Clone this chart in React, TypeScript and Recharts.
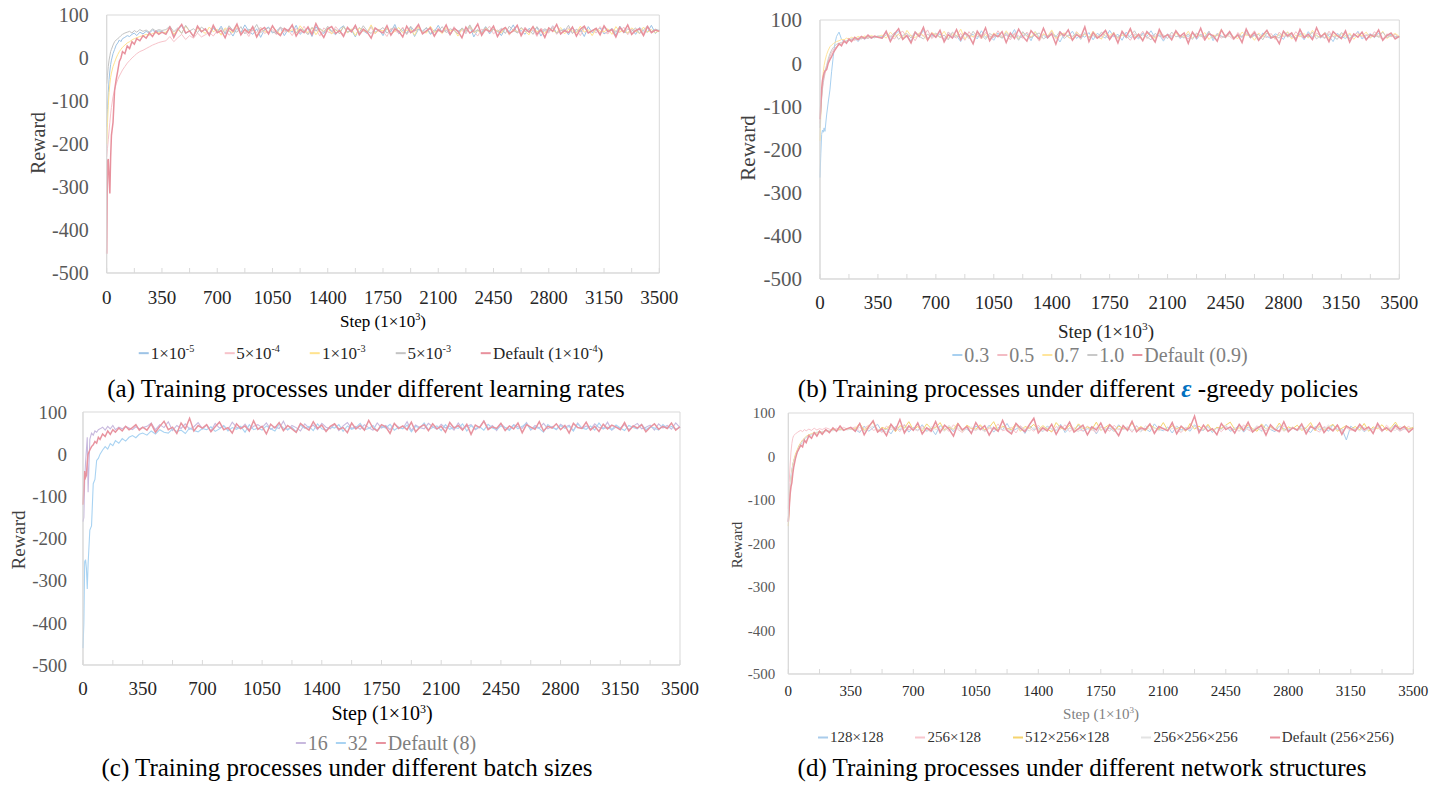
import React from 'react';
import { LineChart, Line, XAxis, YAxis, ReferenceArea } from 'recharts';

const SERIF = '"Liberation Serif", "Times New Roman", serif';
const AXIS = '#D9D9D9';

// step axis (×10^3): dense at the start where the curves climb, then every 25
const EARLY_STEPS = [0, 5, 10, 15, 20, 25, 30, 40, 50, 60, 70, 80, 90, 100, 115, 130, 145, 160, 175, 190, 210, 230, 250, 270, 290, 310, 330, 350];
const LATE_STEPS = [
  375, 400, 425, 450, 475, 500, 525, 550, 575, 600, 625, 650, 675, 700,
  725, 750, 775, 800, 825, 850, 875, 900, 925, 950, 975, 1000, 1025, 1050,
  1075, 1100, 1125, 1150, 1175, 1200, 1225, 1250, 1275, 1300, 1325, 1350, 1375, 1400,
  1425, 1450, 1475, 1500, 1525, 1550, 1575, 1600, 1625, 1650, 1675, 1700, 1725, 1750,
  1775, 1800, 1825, 1850, 1875, 1900, 1925, 1950, 1975, 2000, 2025, 2050, 2075, 2100,
  2125, 2150, 2175, 2200, 2225, 2250, 2275, 2300, 2325, 2350, 2375, 2400, 2425, 2450,
  2475, 2500, 2525, 2550, 2575, 2600, 2625, 2650, 2675, 2700, 2725, 2750, 2775, 2800,
  2825, 2850, 2875, 2900, 2925, 2950, 2975, 3000, 3025, 3050, 3075, 3100, 3125, 3150,
  3175, 3200, 3225, 3250, 3275, 3300, 3325, 3350, 3375, 3400, 3425, 3450, 3475, 3500,
];
const STEPS = [...EARLY_STEPS, ...LATE_STEPS];
const X_TICKS = [0, 175, 350, 525, 700, 875, 1050, 1225, 1400, 1575, 1750, 1925, 2100, 2275, 2450, 2625, 2800, 2975, 3150, 3325, 3500];
const Y_TICKS = [-500, -400, -300, -200, -100, 0, 100];

// (a) learning rates
const LR_1E5 = [
  -160, -120, -80, -50, -30, -15, -5, 10, 20, 30, 35, 42, 38, 45, 48, 52, 50, 55, 58, 52, 60, 56, 62, 58, 65, 60, 63, 61,
  58, 70, 54, 66, 75, 57, 63, 49, 72, 60, 67, 53, 69, 61,
  74, 56, 64, 51, 70, 59, 77, 62, 55, 68, 48, 66, 72, 58,
  63, 71, 52, 67, 60, 76, 55, 64, 69, 50, 73, 61, 57, 70,
  62, 54, 68, 75, 59, 65, 49, 71, 63, 57, 74, 60, 66, 52,
  69, 61, 78, 56, 64, 58, 72, 50, 67, 63, 70, 55, 61, 76,
  59, 66, 53, 71, 62, 68, 57, 74, 49, 65, 60, 73, 56, 67,
  63, 52, 70, 61, 77, 58, 64, 55, 69, 62, 72, 51, 66, 60,
  75, 57, 63, 68, 54, 71, 60, 66, 50, 73, 59, 64, 70, 56,
  62, 69, 53, 74, 61, 58, 67, 55, 71, 63, 60, 76, 57, 65,
];
const LR_5E4 = [
  -230, -210, -190, -170, -150, -130, -115, -90, -75, -60, -50, -42, -35, -28, -20, -12, -6, 0, 5, 10, 15, 18, 22, 26, 30, 33, 36, 38,
  40, 50, 38, 47, 55, 43, 52, 46, 58, 49, 54, 60, 51, 63,
  56, 67, 53, 61, 70, 55, 64, 50, 68, 59, 72, 57, 62, 66,
  54, 71, 60, 65, 52, 69, 58, 74, 56, 63, 67, 51, 70, 61,
  57, 73, 62, 55, 68, 60, 76, 53, 64, 59, 71, 56, 66, 62,
  50, 69, 63, 58, 72, 55, 65, 61, 75, 57, 62, 68, 52, 70,
  60, 66, 54, 73, 59, 64, 57, 70, 62, 51, 67, 63, 74, 56,
  65, 59, 71, 53, 68, 61, 56, 72, 60, 66, 50, 69, 63, 58,
  74, 55, 64, 62, 70, 57, 67, 52, 71, 60, 65, 58, 73, 61,
  56, 68, 63, 59, 72, 54, 66, 61, 69, 57, 75, 60, 64, 62,
];
const LR_1E3 = [
  -200, -150, -110, -80, -60, -45, -35, -20, -10, 0, 8, 15, 20, 25, 30, 35, 38, 42, 45, 47, 50, 52, 55, 53, 57, 58, 60, 59,
  60, 71, 55, 66, 58, 74, 62, 52, 69, 64, 57, 72, 61, 67,
  53, 70, 63, 59, 76, 56, 65, 61, 72, 50, 68, 62, 58, 73,
  64, 55, 69, 60, 66, 57, 75, 63, 59, 71, 54, 67, 62, 70,
  56, 65, 61, 73, 58, 68, 52, 70, 64, 60, 77, 57, 66, 63,
  69, 55, 62, 71, 59, 64, 67, 53, 72, 61, 58, 74, 60, 65,
  57, 70, 63, 66, 51, 68, 62, 75, 59, 64, 56, 71, 61, 67,
  63, 58, 72, 55, 66, 60, 69, 62, 54, 73, 61, 65, 57, 70,
  64, 59, 71, 56, 67, 63, 58, 74, 60, 66, 52, 69, 62, 61,
  68, 55, 73, 61, 64, 58, 70, 63, 57, 72, 60, 66, 59, 64,
];
const LR_5E3 = [
  -60, -40, -20, -5, 5, 15, 20, 30, 38, 42, 45, 48, 52, 55, 58, 60, 62, 58, 64, 60, 66, 62, 65, 60, 68, 63, 66, 64,
  66, 74, 61, 70, 57, 76, 63, 68, 59, 72, 65, 55, 71, 62,
  69, 58, 75, 64, 60, 73, 56, 67, 63, 78, 59, 66, 70, 61,
  57, 72, 65, 62, 76, 58, 68, 64, 54, 71, 63, 69, 60, 74,
  62, 67, 56, 73, 61, 65, 70, 59, 75, 63, 57, 68, 64, 71,
  58, 66, 72, 61, 69, 55, 74, 63, 67, 60, 71, 57, 65, 62,
  73, 59, 68, 64, 56, 70, 62, 77, 60, 66, 58, 72, 63, 67,
  61, 69, 57, 74, 64, 59, 71, 62, 66, 55, 73, 60, 68, 63,
  70, 58, 65, 62, 76, 57, 67, 61, 72, 59, 64, 69, 56, 71,
  63, 66, 60, 73, 58, 68, 62, 70, 57, 65, 74, 61, 67, 64,
];
const LR_DEFAULT = [
  -455, -240, -235, -280, -315, -230, -180, -150, -75, -50, -30, -8, 0, 15, 10, 28, 22, 38, 32, 45, 40, 52, 46, 58, 50, 62, 55, 60,
  55, 72, 48, 66, 78, 58, 63, 50, 74, 61, 68, 53, 76, 59,
  64, 47, 70, 62, 79, 54, 67, 58, 73, 49, 65, 71, 56, 75,
  60, 52, 69, 63, 77, 51, 66, 59, 72, 55, 80, 62, 48, 68,
  73, 57, 64, 50, 71, 61, 76, 54, 67, 60, 46, 70, 63, 58,
  75, 53, 68, 62, 49, 74, 59, 65, 78, 56, 63, 70, 51, 66,
  60, 77, 55, 69, 62, 47, 72, 58, 64, 79, 53, 67, 61, 74,
  50, 65, 71, 57, 63, 76, 52, 68, 60, 73, 55, 66, 48, 70,
  62, 78, 56, 64, 59, 72, 51, 67, 74, 58, 63, 69, 54, 75,
  61, 66, 49, 71, 60, 77, 55, 64, 68, 52, 73, 59, 65, 62,
];

// (b) epsilon-greedy
const EPS_03 = [
  -265, -210, -165, -155, -160, -150, -158, -120, -90, -62, -20, 15, 45, 62, 72, 55, 50, 48, 52, 55, 58, 50, 60, 55, 62, 58, 60, 63,
  62, 70, 55, 66, 74, 58, 63, 51, 69, 61, 76, 57, 65, 60,
  68, 54, 72, 59, 64, 50, 71, 62, 67, 56, 75, 60, 63, 53,
  70, 58, 66, 61, 78, 55, 64, 69, 52, 73, 60, 65, 57, 71,
  63, 49, 68, 62, 74, 57, 66, 60, 71, 54, 69, 63, 58, 76,
  61, 67, 53, 72, 59, 64, 56, 70, 62, 75, 58, 66, 51, 68,
  60, 73, 57, 65, 62, 70, 55, 67, 61, 74, 52, 69, 63, 59,
  71, 56, 64, 60, 77, 58, 66, 53, 70, 62, 57, 68, 64, 55,
  72, 61, 59, 67, 54, 73, 60, 65, 58, 71, 63, 50, 69, 62,
  57, 66, 61, 74, 56, 64, 68, 59, 70, 55, 63, 67, 58, 62,
];
const EPS_05 = [
  -140, -110, -80, -60, -45, -35, -25, -10, 5, 15, 25, 30, 35, 38, 42, 45, 48, 50, 52, 55, 53, 58, 56, 60, 57, 62, 59, 61,
  59, 71, 63, 56, 68, 74, 60, 65, 52, 70, 62, 77, 57, 66,
  61, 55, 72, 64, 58, 69, 53, 73, 60, 67, 56, 71, 63, 59,
  75, 61, 66, 54, 70, 63, 58, 72, 60, 65, 51, 68, 62, 74,
  57, 64, 69, 60, 55, 73, 62, 67, 59, 71, 64, 56, 76, 61,
  66, 58, 70, 63, 53, 68, 60, 74, 57, 65, 62, 71, 55, 67,
  63, 72, 59, 64, 56, 70, 61, 66, 52, 73, 60, 68, 58, 65,
  62, 54, 71, 60, 67, 63, 75, 57, 64, 59, 69, 55, 72, 61,
  66, 58, 73, 62, 60, 68, 54, 70, 63, 57, 74, 61, 65, 59,
  69, 56, 64, 71, 60, 66, 58, 73, 62, 55, 68, 61, 67, 60,
];
const EPS_07 = [
  -180, -120, -70, -40, -20, -5, 5, 20, 30, 38, 42, 45, 48, 50, 52, 55, 54, 58, 56, 60, 57, 62, 59, 63, 60, 64, 61, 62,
  65, 58, 72, 61, 67, 55, 76, 63, 59, 70, 64, 53, 71, 66,
  60, 74, 57, 68, 62, 79, 56, 65, 61, 72, 58, 67, 54, 70,
  63, 59, 75, 61, 66, 57, 71, 64, 60, 73, 55, 68, 62, 77,
  58, 66, 70, 61, 55, 72, 63, 67, 59, 74, 61, 56, 69, 64,
  71, 57, 65, 62, 76, 60, 68, 54, 70, 63, 58, 73, 61, 66,
  56, 69, 64, 60, 74, 58, 67, 62, 71, 55, 65, 63, 78, 59,
  68, 61, 57, 72, 64, 66, 53, 70, 60, 75, 62, 58, 67, 63,
  73, 56, 65, 61, 69, 58, 76, 63, 60, 71, 57, 66, 62, 68,
  60, 70, 55, 67, 63, 72, 59, 65, 61, 74, 57, 64, 69, 62,
];
const EPS_10 = [
  -150, -110, -80, -55, -40, -28, -18, -5, 10, 22, 30, 36, 40, 44, 46, 48, 50, 52, 54, 56, 55, 58, 57, 60, 58, 61, 59, 62,
  57, 66, 60, 71, 55, 64, 69, 58, 73, 62, 56, 67, 61, 70,
  59, 65, 54, 72, 63, 60, 68, 57, 74, 61, 66, 55, 69, 62,
  64, 58, 71, 60, 67, 53, 73, 62, 59, 66, 70, 56, 63, 68,
  61, 74, 57, 65, 62, 69, 55, 71, 60, 64, 58, 72, 63, 56,
  67, 60, 70, 58, 63, 75, 59, 66, 61, 54, 69, 62, 65, 57,
  72, 61, 64, 58, 68, 55, 70, 63, 60, 73, 57, 66, 62, 59,
  69, 56, 65, 62, 71, 59, 64, 67, 54, 70, 61, 63, 58, 73,
  60, 66, 57, 69, 63, 61, 72, 56, 65, 59, 68, 62, 55, 71,
  64, 58, 67, 61, 70, 57, 63, 66, 60, 72, 59, 65, 62, 61,
];
const EPS_DEFAULT = [
  -130, -95, -60, -40, -30, -22, -18, -15, 0, 8, 15, 24, 30, 36, 45, 40, 52, 46, 56, 50, 60, 54, 62, 57, 65, 58, 63, 60,
  58, 74, 50, 68, 80, 55, 64, 47, 72, 62, 83, 53, 69, 60,
  76, 49, 66, 58, 78, 54, 71, 63, 45, 74, 60, 82, 52, 67,
  61, 73, 48, 70, 57, 79, 62, 51, 75, 64, 56, 81, 59, 68,
  44, 72, 63, 77, 53, 66, 60, 84, 50, 71, 58, 65, 76, 55,
  69, 47, 74, 61, 80, 56, 67, 52, 73, 63, 49, 78, 60, 66,
  54, 75, 62, 70, 46, 72, 59, 81, 55, 68, 64, 51, 77, 61,
  73, 57, 66, 48, 79, 60, 71, 53, 65, 76, 58, 62, 45, 74,
  63, 70, 52, 78, 59, 67, 55, 82, 61, 69, 50, 73, 64, 57,
  75, 49, 68, 60, 72, 54, 66, 61, 77, 53, 64, 70, 56, 62,
];

// (c) batch sizes
const BS_16 = [
  -160, -150, -60, -20, 10, 40, -90, 35, 50, 45, 55, 52, 58, 60, 64, 57, 66, 60, 68, 58, 64, 60, 66, 62, 58, 65, 60, 63,
  66, 74, 58, 70, 63, 77, 56, 68, 61, 72, 59, 65, 75, 60,
  69, 55, 73, 62, 67, 58, 76, 64, 60, 71, 57, 66, 70, 63,
  74, 59, 65, 61, 78, 57, 68, 63, 55, 72, 62, 69, 58, 73,
  64, 60, 71, 56, 67, 75, 61, 66, 59, 70, 63, 57, 74, 62,
  68, 58, 72, 64, 61, 77, 56, 69, 63, 60, 73, 65, 59, 71,
  62, 67, 57, 74, 60, 66, 70, 58, 64, 79, 61, 68, 56, 72,
  63, 59, 70, 65, 61, 75, 57, 68, 62, 73, 60, 66, 58, 71,
  64, 69, 56, 74, 61, 67, 59, 72, 63, 60, 76, 57, 65, 62,
  70, 58, 66, 73, 60, 64, 69, 57, 72, 62, 68, 59, 74, 63,
];
const BS_32 = [
  -460, -400, -255, -250, -270, -320, -260, -180, -170, -70, -60, -15, -10, 0, 10, 18, 12, 25, 20, 32, 26, 37, 31, 40, 44, 39, 47, 50,
  45, 55, 48, 58, 52, 50, 60, 54, 57, 49, 62, 56, 53, 61,
  58, 65, 54, 60, 68, 55, 63, 59, 66, 52, 70, 58, 62, 57,
  67, 60, 55, 71, 62, 58, 64, 53, 69, 61, 66, 56, 72, 60,
  57, 65, 62, 70, 54, 67, 59, 63, 73, 58, 61, 68, 55, 66,
  62, 71, 57, 64, 60, 69, 53, 66, 62, 74, 58, 63, 67, 56,
  70, 59, 64, 61, 72, 55, 68, 60, 65, 57, 71, 62, 58, 67,
  63, 56, 69, 60, 66, 73, 58, 64, 61, 52, 70, 63, 59, 68,
  61, 66, 55, 72, 62, 59, 67, 57, 74, 60, 64, 58, 69, 62,
  56, 68, 63, 60, 71, 58, 65, 62, 57, 70, 61, 66, 59, 64,
];
const BS_DEFAULT = [
  -120, -80, -40, -55, -50, -20, 0, 10, 18, 22, 30, 26, 40, 35, 48, 42, 55, 47, 58, 52, 62, 55, 66, 58, 63, 70, 57, 64,
  57, 72, 52, 66, 78, 58, 64, 49, 74, 60, 85, 55, 68, 62,
  70, 53, 65, 76, 58, 63, 50, 72, 61, 67, 55, 79, 59, 66,
  48, 71, 62, 75, 56, 68, 60, 52, 73, 64, 57, 77, 61, 69,
  54, 66, 72, 59, 63, 51, 74, 60, 68, 57, 80, 62, 55, 70,
  65, 49, 73, 61, 67, 58, 76, 53, 64, 70, 56, 72, 60, 66,
  52, 75, 62, 68, 57, 71, 47, 69, 63, 78, 58, 65, 61, 73,
  56, 67, 60, 74, 51, 70, 64, 59, 77, 55, 66, 62, 72, 58,
  68, 50, 73, 63, 61, 76, 57, 66, 54, 71, 60, 69, 64, 58,
  75, 55, 67, 62, 70, 53, 64, 72, 59, 66, 61, 74, 57, 65,
];

// (d) network structures
const NET_128 = [
  -150, -110, -70, -45, -30, -20, -10, 0, 10, 20, 28, 35, 40, 44, 48, 50, 53, 55, 57, 56, 60, 58, 62, 59, 63, 61, 64, 62,
  62, 55, 70, 58, 66, 74, 57, 64, 52, 69, 61, 72, 56, 67,
  60, 73, 58, 65, 50, 71, 62, 68, 57, 75, 60, 63, 54, 70,
  64, 59, 72, 56, 67, 61, 76, 58, 63, 69, 53, 71, 62, 66,
  57, 70, 63, 60, 74, 55, 66, 61, 72, 58, 64, 68, 52, 69,
  61, 65, 58, 73, 62, 67, 56, 71, 60, 64, 57, 75, 63, 59,
  68, 54, 70, 61, 66, 58, 73, 62, 60, 69, 55, 67, 64, 71,
  58, 63, 72, 56, 68, 61, 65, 59, 74, 62, 57, 70, 64, 60,
  66, 59, 71, 63, 55, 69, 61, 67, 58, 73, 62, 64, 38, 70,
  60, 68, 57, 65, 63, 71, 58, 66, 61, 74, 59, 64, 62, 67,
];
const NET_256_128 = [
  -120, -60, -20, 10, 30, 42, 48, 52, 55, 58, 60, 57, 62, 59, 63, 60, 65, 61, 64, 62, 66, 63, 60, 65, 62, 67, 63, 64,
  68, 58, 65, 72, 60, 63, 55, 70, 62, 67, 57, 74, 61, 64,
  59, 69, 63, 56, 71, 60, 66, 58, 73, 62, 55, 68, 64, 60,
  70, 57, 65, 62, 75, 59, 63, 67, 54, 71, 61, 66, 58, 72,
  60, 64, 56, 69, 63, 73, 57, 66, 61, 59, 70, 62, 55, 67,
  65, 58, 72, 61, 64, 68, 56, 70, 62, 60, 74, 57, 66, 63,
  59, 71, 62, 55, 67, 64, 69, 58, 63, 72, 60, 65, 57, 68,
  62, 66, 58, 73, 61, 57, 70, 64, 59, 67, 62, 55, 71, 63,
  68, 60, 65, 58, 72, 62, 56, 69, 64, 61, 74, 57, 66, 60,
  63, 70, 59, 65, 61, 68, 56, 72, 62, 66, 58, 64, 69, 61,
];
const NET_512 = [
  -160, -120, -80, -55, -35, -20, -10, 5, 15, 25, 32, 38, 42, 46, 50, 52, 55, 54, 58, 56, 60, 58, 62, 60, 63, 61, 64, 62,
  64, 76, 60, 70, 79, 58, 67, 63, 74, 57, 71, 65, 80, 61,
  69, 59, 75, 64, 66, 78, 60, 68, 62, 77, 58, 72, 65, 63,
  73, 61, 67, 80, 59, 70, 64, 62, 76, 58, 69, 65, 74, 60,
  71, 63, 57, 78, 66, 61, 72, 59, 75, 64, 68, 62, 79, 60,
  67, 74, 58, 70, 65, 63, 77, 61, 69, 59, 73, 66, 62, 78,
  60, 71, 64, 68, 58, 76, 63, 70, 61, 74, 59, 67, 65, 72,
  79, 62, 66, 60, 73, 64, 58, 75, 63, 69, 61, 77, 59, 68,
  64, 72, 60, 66, 78, 59, 70, 62, 67, 74, 58, 65, 71, 63,
  69, 61, 76, 58, 68, 64, 73, 60, 66, 79, 62, 70, 63, 67,
];
const NET_256X3 = [
  -150, -110, -75, -50, -35, -22, -12, 0, 12, 22, 30, 36, 40, 45, 48, 51, 53, 56, 55, 58, 57, 60, 59, 62, 60, 63, 61, 63,
  61, 67, 58, 64, 70, 60, 63, 56, 68, 62, 66, 59, 71, 63,
  60, 65, 57, 69, 62, 64, 58, 72, 61, 66, 59, 63, 68, 60,
  65, 57, 70, 62, 60, 67, 63, 58, 71, 61, 64, 59, 66, 62,
  58, 68, 63, 61, 72, 59, 65, 62, 57, 69, 64, 60, 67, 61,
  63, 70, 58, 65, 62, 68, 60, 64, 56, 71, 62, 66, 59, 65,
  61, 64, 69, 57, 66, 62, 70, 59, 63, 67, 58, 65, 61, 72,
  60, 66, 59, 68, 63, 61, 71, 57, 65, 62, 64, 69, 58, 63,
  67, 60, 64, 58, 70, 62, 66, 59, 73, 61, 63, 57, 68, 62,
  65, 59, 67, 61, 64, 70, 58, 66, 62, 60, 69, 63, 61, 64,
];
const NET_DEFAULT = [
  -150, -120, -88, -70, -60, -40, -25, -5, 10, 18, 26, 22, 38, 32, 48, 42, 55, 47, 58, 51, 62, 55, 66, 58, 70, 60, 64, 67,
  58, 76, 50, 68, 82, 56, 64, 48, 74, 61, 85, 54, 70, 60,
  77, 52, 66, 59, 80, 55, 72, 63, 47, 75, 61, 69, 53, 78,
  62, 71, 49, 67, 58, 83, 60, 52, 76, 65, 57, 73, 88, 54,
  66, 59, 74, 51, 70, 62, 79, 56, 64, 72, 50, 68, 61, 77,
  55, 73, 63, 48, 71, 60, 81, 57, 66, 62, 75, 53, 69, 64,
  59, 78, 52, 70, 61, 67, 93, 55, 72, 58, 64, 50, 76, 62,
  68, 54, 74, 60, 79, 56, 65, 71, 49, 73, 62, 58, 80, 57,
  66, 61, 75, 52, 69, 63, 77, 55, 67, 59, 72, 51, 70, 64,
  58, 74, 62, 68, 53, 76, 60, 66, 57, 71, 63, 69, 56, 65,
];

type Series = { key: string; name: React.ReactNode; color: string; width: number; values: number[] };

const sci = (m: string, e: string) => (
  <>
    {m}×10<sup style={{ fontSize: '0.6em' }}>{e}</sup>
  </>
);

const SERIES_A: Series[] = [
  { key: 'lr1e5', name: sci('1', '-5'), color: '#9DC3E6', width: 1, values: LR_1E5 },
  { key: 'lr5e4', name: sci('5', '-4'), color: '#F7C3CA', width: 1, values: LR_5E4 },
  { key: 'lr1e3', name: sci('1', '-3'), color: '#FFE38F', width: 1, values: LR_1E3 },
  { key: 'lr5e3', name: sci('5', '-3'), color: '#C3C3C3', width: 1, values: LR_5E3 },
  { key: 'lrDef', name: <>Default ({sci('1', '-4')})</>, color: '#E8919D', width: 1.5, values: LR_DEFAULT },
];
const SERIES_B: Series[] = [
  { key: 'e03', name: '0.3', color: '#A8D0F0', width: 1, values: EPS_03 },
  { key: 'e05', name: '0.5', color: '#F3BCC4', width: 1, values: EPS_05 },
  { key: 'e07', name: '0.7', color: '#FFE59C', width: 1, values: EPS_07 },
  { key: 'e10', name: '1.0', color: '#C9C9C9', width: 1, values: EPS_10 },
  { key: 'eDef', name: 'Default (0.9)', color: '#E8939F', width: 1.5, values: EPS_DEFAULT },
];
const SERIES_C: Series[] = [
  { key: 'b16', name: '16', color: '#C8B9DE', width: 1.1, values: BS_16 },
  { key: 'b32', name: '32', color: '#A9D3F2', width: 1.1, values: BS_32 },
  { key: 'bDef', name: 'Default (8)', color: '#E8939F', width: 1.5, values: BS_DEFAULT },
];
const SERIES_D: Series[] = [
  { key: 'n128', name: '128×128', color: '#A9CCEB', width: 1, values: NET_128 },
  { key: 'n256', name: '256×128', color: '#F8C6CD', width: 1, values: NET_256_128 },
  { key: 'n512', name: '512×256×128', color: '#F5D46E', width: 1, values: NET_512 },
  { key: 'n3', name: '256×256×256', color: '#E3E3E3', width: 1, values: NET_256X3 },
  { key: 'nDef', name: 'Default (256×256)', color: '#E8919D', width: 1.5, values: NET_DEFAULT },
];

const rowsFor = (series: Series[]) =>
  STEPS.map((step, i) => {
    const row: Record<string, number> = { step };
    series.forEach((s) => {
      row[s.key] = s.values[i];
    });
    return row;
  });

type Cfg = {
  x0: number; y0: number; w: number; h: number;
  L: number; T: number; R: number; B: number;
  yFont: number; yGap: number; xFont: number; xGap: number;
};

function Panel({ cfg, series }: { cfg: Cfg; series: Series[] }) {
  const xTick = (props: any) => {
    const { x, y, payload } = props;
    const base = y - cfg.xGap;
    const v = payload.value;
    return (
      <g>
        <line x1={x} x2={x} y1={base} y2={base - 5} stroke={AXIS} />
        {v % 350 === 0 ? (
          <text x={x} y={y} textAnchor="middle" dominantBaseline="central" fontSize={cfg.xFont} fill="#262626" fontFamily={SERIF}>
            {v}
          </text>
        ) : null}
      </g>
    );
  };
  return (
    <div style={{ position: 'absolute', left: cfg.x0, top: cfg.y0 }}>
      <LineChart
        width={cfg.w}
        height={cfg.h}
        data={rowsFor(series)}
        margin={{ top: cfg.T - cfg.y0, right: cfg.x0 + cfg.w - cfg.R, bottom: 0, left: 0 }}
      >
        <XAxis
          dataKey="step"
          type="number"
          domain={[0, 3500]}
          ticks={X_TICKS}
          interval={0}
          height={cfg.y0 + cfg.h - cfg.B}
          tickSize={0}
          tickMargin={cfg.xGap}
          tickLine={false}
          tick={xTick}
          axisLine={{ stroke: AXIS }}
        />
        <YAxis
          type="number"
          domain={[-500, 100]}
          ticks={Y_TICKS}
          interval={0}
          width={cfg.L - cfg.x0}
          tickSize={0}
          tickMargin={cfg.yGap}
          tickLine={false}
          axisLine={{ stroke: AXIS }}
          tick={{ fontSize: cfg.yFont, fill: '#595959', fontFamily: SERIF }}
        />
        <ReferenceArea x1={0} x2={3500} y1={-500} y2={100} fill="none" stroke={AXIS} ifOverflow="visible" />
        {series.map((s) => (
          <Line
            key={s.key}
            dataKey={s.key}
            type="linear"
            stroke={s.color}
            strokeWidth={s.width}
            dot={false}
            activeDot={false}
            isAnimationActive={false}
          />
        ))}
      </LineChart>
    </div>
  );
}

function Txt({ x, y, size, color = '#000', rotate, children }: { x: number; y: number; size: number; color?: string; rotate?: boolean; children: React.ReactNode }) {
  return (
    <div
      style={{
        position: 'absolute',
        left: x,
        top: y,
        transform: `translate(-50%, -50%)${rotate ? ' rotate(-90deg)' : ''}`,
        fontSize: size,
        color,
        fontFamily: SERIF,
        whiteSpace: 'nowrap',
        lineHeight: 1,
      }}
    >
      {children}
    </div>
  );
}

function LegendRow({ x, y, size, color, gap, series }: { x: number; y: number; size: number; color: string; gap: number; series: Series[] }) {
  return (
    <div
      style={{
        position: 'absolute',
        left: x,
        top: y,
        transform: 'translate(-50%, -50%)',
        display: 'flex',
        alignItems: 'center',
        gap,
        fontSize: size,
        color,
        fontFamily: SERIF,
        whiteSpace: 'nowrap',
        lineHeight: 1,
      }}
    >
      {series.map((s) => (
        <span key={s.key} style={{ display: 'flex', alignItems: 'center' }}>
          <span style={{ display: 'inline-block', width: 10, height: 2, background: s.color, marginRight: 2 }} />
          <span>{s.name}</span>
        </span>
      ))}
    </div>
  );
}

const stepTitle = (
  <>
    Step (1×10<sup style={{ fontSize: '0.6em' }}>3</sup>)
  </>
);

const CFG_A: Cfg = { x0: 0, y0: 0, w: 700, h: 320, L: 106.7, T: 15, R: 659.3, B: 273, yFont: 20, yGap: 18, xFont: 19, xGap: 24 };
const CFG_B: Cfg = { x0: 720, y0: 0, w: 725, h: 320, L: 820, T: 20, R: 1399.3, B: 279, yFont: 21, yGap: 18, xFont: 19, xGap: 23 };
const CFG_C: Cfg = { x0: 0, y0: 395, w: 700, h: 320, L: 83, T: 412, R: 680, B: 665, yFont: 19, yGap: 16, xFont: 19, xGap: 23 };
const CFG_D: Cfg = { x0: 720, y0: 395, w: 725, h: 320, L: 788.3, T: 413, R: 1413.3, B: 674, yFont: 15, yGap: 13, xFont: 15, xGap: 17 };

export default function App() {
  return (
    <div style={{ position: 'absolute', left: 0, top: 0, width: 1445, height: 785, background: '#fff', overflow: 'hidden' }}>
      <Panel cfg={CFG_A} series={SERIES_A} />
      <Panel cfg={CFG_B} series={SERIES_B} />
      <Panel cfg={CFG_C} series={SERIES_C} />
      <Panel cfg={CFG_D} series={SERIES_D} />

      <Txt x={38} y={143} size={20} color="#404040" rotate>Reward</Txt>
      <Txt x={748} y={148} size={21} color="#404040" rotate>Reward</Txt>
      <Txt x={18} y={540} size={19} color="#404040" rotate>Reward</Txt>
      <Txt x={737} y={545} size={15} color="#404040" rotate>Reward</Txt>

      <Txt x={383} y={321} size={17}>{stepTitle}</Txt>
      <Txt x={1106} y={331} size={19} color="#262626">{stepTitle}</Txt>
      <Txt x={382} y={713} size={20}>{stepTitle}</Txt>
      <Txt x={1101} y={714} size={15} color="#7F7F7F">{stepTitle}</Txt>

      <LegendRow x={371} y={353} size={17} color="#262626" gap={30} series={SERIES_A} />
      <LegendRow x={1100} y={355} size={20} color="#7F7F7F" gap={8} series={SERIES_B} />
      <LegendRow x={386} y={743} size={20} color="#7F7F7F" gap={8} series={SERIES_C} />
      <LegendRow x={1106} y={737} size={15} color="#333" gap={32} series={SERIES_D} />

      <Txt x={366} y={388} size={25}>(a) Training processes under different learning rates</Txt>
      <Txt x={1078} y={388} size={25}>
        (b) Training processes under different{' '}
        <span style={{ color: '#0070C0', fontWeight: 'bold', fontStyle: 'italic' }}>ε</span> -greedy policies
      </Txt>
      <Txt x={347} y={767} size={25}>(c) Training processes under different batch sizes</Txt>
      <Txt x={1082} y={767} size={25}>(d) Training processes under different network structures</Txt>
    </div>
  );
}
